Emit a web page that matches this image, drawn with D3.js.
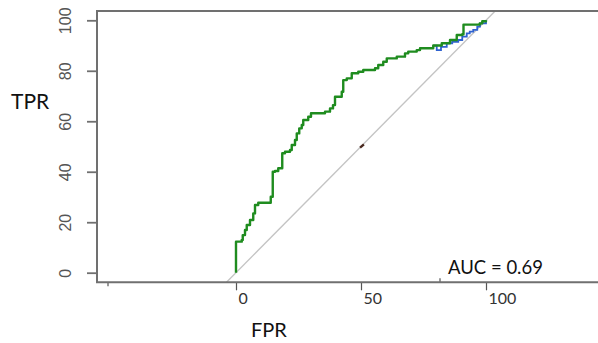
<!DOCTYPE html>
<html><head><meta charset="utf-8">
<script src="https://cdn.jsdelivr.net/npm/d3@7"></script>
<style>html,body{margin:0;padding:0;background:#fff;}svg{display:block;}</style>
</head><body>
<svg id="chart" width="598" height="343"></svg>
<script>
// ---- data ----
const fprGreen = [0,0,2.3,2.7,3.6,4.3,5.6,6.9,7.6,8.9,13.6,13.9,14.7,14.7,15.6,16.9,18.5,19.6,21.6,22.3,23.6,24.3,25.3,26.3,26.9,28.9,30.0,34.3,35.6,37.6,38.8,39.6,42.3,42.9,44.3,46.3,48.9,50.9,55.6,56.9,58.9,60.3,64.3,67.6,68.9,72.3,73.6,78.9,82.3,85.6,88.3,90.5,91.0,97.5,98.5,100];
const tprGreen = [0,12.3,13.0,14.9,16.9,18.9,20.9,23.5,26.8,27.7,27.7,30.1,31.5,40.0,40.3,41.4,47.3,47.9,48.6,50.6,52.6,55.2,57.2,58.5,60.5,61.8,63.2,63.2,63.8,65.1,66.4,69.7,71.7,76.3,77.0,79.0,79.6,80.3,81.0,82.3,83.6,84.9,85.6,86.9,87.6,88.2,88.9,90.0,90.9,92.2,94.2,94.5,98.3,98.8,99.6,100];
const fprBlue = [78.9,80.3,82.0,84.3,86.5,88.9,90.5,92.3,93.5,94.9,96.5,97.6,100];
const tprBlue = [90.0,88.2,89.5,90.9,91.5,92.2,93.5,94.8,95.5,96.2,97.5,98.8,100];
const xTicks = [0,50,100];
const xMinorTicks = [-51.2, 81.6];
const yTicks = [0,20,40,60,80,100];
const markPoint = [50.4, 50.2];
const aucLabel = "AUC = 0.69";
const xTitle = "FPR", yTitle = "TPR";

// ---- layout ----
const svg = d3.select("#chart");
const frame = {left: 97, top: 11, bottom: 282.3, right: 598};
const x = d3.scaleLinear().domain([0,100]).range([236,486]);
const y = d3.scaleLinear().domain([0,100]).range([272.7,20.3]);
const axisCol = "#707070";

// diagonal reference line across the frame
const d0 = y.invert(frame.bottom), d1 = y.invert(frame.top);
svg.append("line")
  .attr("x1", x(d0)).attr("y1", y(d0)).attr("x2", x(d1)).attr("y2", y(d1))
  .attr("stroke", "#c4c4c4").attr("stroke-width", 1.3);

// blue curve (underneath)
const lineB = d3.line().x((d,i)=>x(fprBlue[i])).y((d,i)=>y(tprBlue[i])).curve(d3.curveStepAfter);
svg.append("path").datum(fprBlue).attr("d", lineB)
  .attr("fill","none").attr("stroke","#2f62d0").attr("stroke-width",1.8);

// green curve
const lineG = d3.line().x((d,i)=>x(fprGreen[i])).y((d,i)=>y(tprGreen[i])).curve(d3.curveStepAfter);
svg.append("path").datum(fprGreen).attr("d", lineG)
  .attr("fill","none").attr("stroke","#1f8c1f").attr("stroke-width",2.4)
  .attr("stroke-linejoin","round");

// small mark on diagonal
svg.append("rect")
  .attr("x", x(markPoint[0]) - 2.5).attr("y", y(markPoint[1]) - 1.2)
  .attr("width", 5).attr("height", 2.4)
  .attr("transform", `rotate(-40 ${x(markPoint[0])} ${y(markPoint[1])})`)
  .attr("fill", "#4a2a20");

// y axis
const yAxis = svg.append("g").attr("transform", `translate(${frame.left},0)`)
  .call(d3.axisLeft(y).tickValues(yTicks).tickSize(10).tickFormat(d3.format("d")));
yAxis.select(".domain").remove();
yAxis.selectAll(".tick line").attr("stroke", axisCol).attr("stroke-width", 1.8);
yAxis.selectAll(".tick text")
  .attr("x", null).attr("dy", null)
  .attr("transform", "translate(-26,0) rotate(-90)")
  .attr("text-anchor", "middle")
  .attr("font-family", "'Liberation Sans', Arial, sans-serif")
  .attr("font-size", 16).attr("fill", "#555");

// x axis
const xAxis = svg.append("g").attr("transform", `translate(0,${frame.bottom})`)
  .call(d3.axisBottom(x).tickValues(xTicks).tickSize(8).tickFormat(d3.format("d")));
xAxis.select(".domain").remove();
xAxis.selectAll(".tick line").attr("stroke", "#555").attr("stroke-width", 1.2);
xAxis.selectAll(".tick text")
  .attr("x", 2).attr("y", 22).attr("dy", null)
  .attr("text-anchor", "start")
  .attr("font-family", "Lato, 'Open Sans', sans-serif")
  .attr("font-size", 16).attr("fill", "#333");

// minor marks on x axis (down, up)
xMinorTicks.forEach((v,i) => {
  svg.append("line").attr("x1", x(v)).attr("x2", x(v))
    .attr("y1", frame.bottom).attr("y2", i === 0 ? frame.bottom + 4 : frame.bottom - 4)
    .attr("stroke", "#555").attr("stroke-width", 1.2);
});

// frame lines: left, top, bottom
svg.append("path")
  .attr("d", `M${frame.right},${frame.top}H${frame.left}V${frame.bottom}H${frame.right}`)
  .attr("fill","none").attr("stroke", axisCol).attr("stroke-width", 2);

// titles
svg.append("text").attr("x", 11).attr("y", 108.5).text(yTitle)
  .attr("font-family","Lato, 'Open Sans', sans-serif").attr("font-size", 21).attr("fill","#111");
svg.append("text").attr("x", 251).attr("y", 336.5).text(xTitle)
  .attr("font-family","Lato, 'Open Sans', sans-serif").attr("font-size", 20).attr("fill","#111");
svg.append("text").attr("x", 448).attr("y", 273.5).text(aucLabel)
  .attr("font-family","Lato, 'Open Sans', sans-serif").attr("font-size", 18.5).attr("fill","#111");
</script>
</body></html>
